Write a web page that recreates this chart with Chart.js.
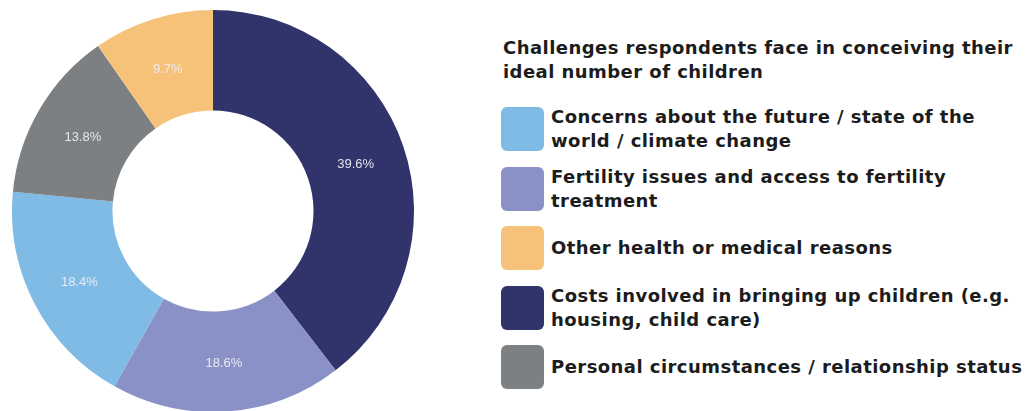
<!DOCTYPE html>
<html>
<head>
<meta charset="utf-8">
<script src="https://cdn.jsdelivr.net/npm/chart.js@4/dist/chart.umd.min.js"></script>
<style>
  html, body { margin: 0; padding: 0; background: #fff; }
  body { width: 1026px; height: 411px; position: relative; overflow: hidden; font-family: "DejaVu Sans", sans-serif; }
  #wrap { position: absolute; left: 12px; top: 10px; width: 402px; height: 402px; }
  #legend { position: absolute; left: 501px; top: 36px; width: 525px; color: #1c1c1c; }
  #legend h3 { margin: 0 0 23px 2px; font-size: 18px; font-weight: bold; line-height: 24px; letter-spacing: 0.45px; white-space: nowrap; }
  .item { display: flex; align-items: center; height: 44px; margin-bottom: 15.6px; }
  .sw { width: 43px; height: 44px; border-radius: 6px; flex: none; }
  .txt { margin-left: 7px; font-size: 18px; font-weight: bold; line-height: 24px; letter-spacing: 0.45px; white-space: nowrap; }
</style>
</head>
<body>
<div id="wrap"><canvas id="donut"></canvas></div>
<div id="legend"><h3>Challenges respondents face in conceiving their<br>ideal number of children</h3><div id="items"></div></div>
<script>
// slices, clockwise from 12 o'clock
const categories = [
  'Costs involved in bringing up children (e.g. housing, child care)',
  'Fertility issues and access to fertility treatment',
  'Concerns about the future / state of the world / climate change',
  'Personal circumstances / relationship status',
  'Other health or medical reasons'
];
const shares = [39.6, 18.6, 18.4, 13.8, 9.7];
const colours = ['#31346b', '#8a91c6', '#7fbbe5', '#7c8082', '#f6c27a'];
// order the legend lists them in (indexes into the arrays above)
const legendOrder = [2, 1, 4, 0, 3];
// line breaks as in the legend
const legendText = [
  'Costs involved in bringing up children (e.g.<br>housing, child care)',
  'Fertility issues and access to fertility<br>treatment',
  'Concerns about the future / state of the<br>world / climate change',
  'Personal circumstances / relationship status',
  'Other health or medical reasons'
];

const sliceLabels = {
  id: 'sliceLabels',
  afterDatasetsDraw(chart) {
    const c = chart.ctx;
    c.save();
    c.font = '13px "Liberation Sans", Arial, sans-serif';
    c.fillStyle = 'rgba(236,236,244,0.95)';
    c.textAlign = 'center';
    c.textBaseline = 'middle';
    chart.getDatasetMeta(0).data.forEach((arc, i) => {
      const p = arc.tooltipPosition();
      c.fillText(shares[i].toFixed(1) + '%', p.x, p.y + 2);
    });
    c.restore();
  }
};

const chart = new Chart(document.getElementById('donut').getContext('2d'), {
  type: 'doughnut',
  data: {
    labels: categories,
    datasets: [{
      data: shares,
      backgroundColor: colours,
      borderWidth: 0
    }]
  },
  options: {
    responsive: true,
    maintainAspectRatio: false,
    animation: false,
    cutout: '50%',
    layout: { padding: 0 },
    plugins: {
      legend: { display: false },
      tooltip: { enabled: false }
    }
  },
  plugins: [sliceLabels]
});

const items = document.getElementById('items');
legendOrder.forEach(i => {
  const row = document.createElement('div');
  row.className = 'item';
  row.innerHTML = `<div class="sw" style="background:${chart.data.datasets[0].backgroundColor[i]}"></div><div class="txt">${legendText[i]}</div>`;
  items.appendChild(row);
});
</script>
</body>
</html>
